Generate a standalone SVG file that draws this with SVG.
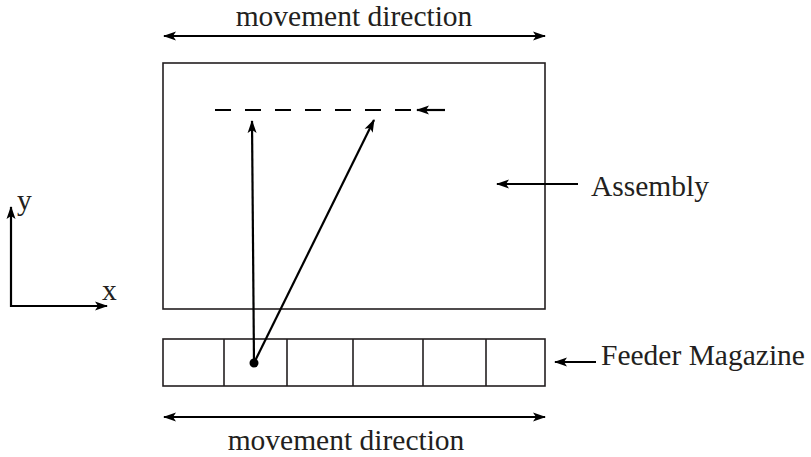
<svg xmlns="http://www.w3.org/2000/svg" width="811" height="457" viewBox="0 0 811 457">
<style>
.t{font-family:"Liberation Serif","Times New Roman",serif;font-size:29.5px;fill:#231f20}
.box{fill:#fff;stroke:#231f20;stroke-width:1.6}
.ln{fill:none;stroke:#000;stroke-width:2.2}
</style>
<defs>
<marker id="ah" viewBox="0 0 13 10" refX="12" refY="5" markerWidth="13" markerHeight="10" markerUnits="userSpaceOnUse" orient="auto-start-reverse">
<path d="M0,0.5 L13,5 L0,9.5 L3,5 Z" fill="#000"/>
</marker>
</defs>
<rect width="811" height="457" fill="#fff"/>
<g id="assembly">
<rect class="box" x="163" y="63" width="382" height="246"/>
</g>
<g id="feeder">
<rect class="box" x="163" y="339" width="382" height="47"/>
<line class="box" x1="224" y1="339" x2="224" y2="386"/>
<line class="box" x1="287" y1="339" x2="287" y2="386"/>
<line class="box" x1="353" y1="339" x2="353" y2="386"/>
<line class="box" x1="423" y1="339" x2="423" y2="386"/>
<line class="box" x1="486" y1="339" x2="486" y2="386"/>
</g>
<g id="labels">
<text class="t" x="354" y="26" text-anchor="middle">movement direction</text>
<text class="t" x="346" y="450" text-anchor="middle">movement direction</text>
<text class="t" x="591" y="196">Assembly</text>
<text class="t" x="601" y="365">Feeder Magazine</text>
<text class="t" x="17" y="210">y</text>
<text class="t" x="102" y="300">x</text>
</g>
<g id="connectors">
<line class="ln" x1="164" y1="36" x2="545" y2="36" marker-start="url(#ah)" marker-end="url(#ah)"/>
<line class="ln" x1="164" y1="417" x2="545" y2="417" marker-start="url(#ah)" marker-end="url(#ah)"/>
<line class="ln" x1="578" y1="184" x2="497" y2="184" marker-end="url(#ah)"/>
<line class="ln" x1="596" y1="362" x2="555" y2="362" marker-end="url(#ah)"/>
<line class="ln" x1="215" y1="110" x2="412" y2="110" stroke-dasharray="16 14"/>
<line class="ln" x1="445" y1="110" x2="417" y2="110" marker-end="url(#ah)"/>
<line class="ln" x1="254" y1="363" x2="252" y2="121" marker-end="url(#ah)"/>
<line class="ln" x1="254" y1="363" x2="374" y2="120" marker-end="url(#ah)"/>
<circle cx="254" cy="363" r="4.5" fill="#000"/>
<polyline class="ln" points="11,207 11,306 107,306" marker-start="url(#ah)" marker-end="url(#ah)"/>
</g>
</svg>
